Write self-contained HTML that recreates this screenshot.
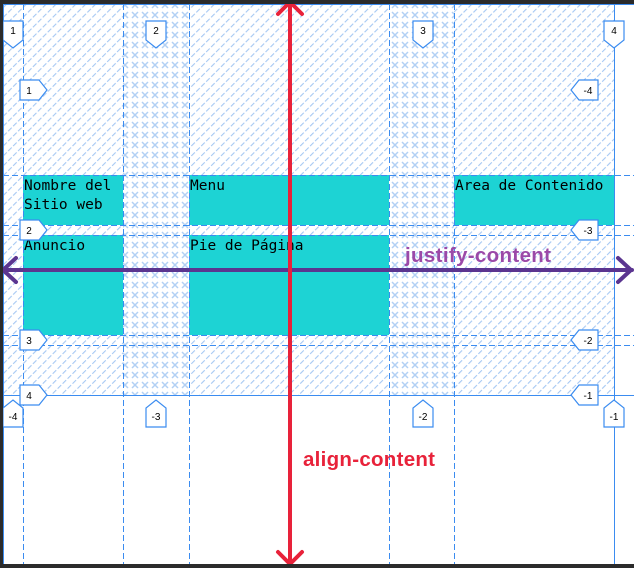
<!DOCTYPE html>
<html><head><meta charset="utf-8"><style>
html,body{margin:0;padding:0;background:#fff;width:634px;height:568px;overflow:hidden}
svg{display:block}
.cell{font-family:"DejaVu Sans Mono","Liberation Mono",monospace;font-size:14.5px;fill:#000}
.bt{font-family:"Liberation Sans",sans-serif;font-size:10px;fill:#000;text-anchor:middle}
</style></head><body>
<svg width="634" height="568" viewBox="0 0 634 568">
<defs>
<pattern id="diag" width="7" height="7" patternUnits="userSpaceOnUse" patternTransform="rotate(45)">
<rect width="7" height="7" fill="#fff"/><line x1="0" y1="0" x2="0" y2="7" stroke="#a6c8f3" stroke-width="2.2" stroke-dasharray="3 2"/></pattern>
<pattern id="cross" width="10" height="10" patternUnits="userSpaceOnUse">
<rect width="10" height="10" fill="#fff"/><path d="M2 2L8 8M8 2L2 8" stroke="#b2d0f4" stroke-width="1.5"/></pattern>
</defs>
<g>
<rect x="3" y="4" width="611" height="391" fill="url(#diag)"/>
<rect x="123" y="4" width="66" height="391" fill="url(#cross)"/>
<rect x="389" y="4" width="65" height="391" fill="url(#cross)"/>
</g>
<g>
<rect x="23" y="175" width="100" height="50" fill="#1dd3d4"/>
<rect x="189" y="175" width="200" height="50" fill="#1dd3d4"/>
<rect x="454" y="175" width="160" height="50" fill="#1dd3d4"/>
<rect x="23" y="235" width="100" height="100" fill="#1dd3d4"/>
<rect x="189" y="235" width="200" height="100" fill="#1dd3d4"/>
<text class="cell" x="24" y="190">Nombre del</text>
<text class="cell" x="24" y="209">Sitio web</text>
<text class="cell" x="190" y="190">Menu</text>
<text class="cell" x="455" y="190">Area de Contenido</text>
<text class="cell" x="24" y="250">Anuncio</text>
<text class="cell" x="190" y="250">Pie de Página</text>
</g>
<g stroke="#3b8cf0" stroke-width="1">
<g stroke-dasharray="6 3">
<line x1="23.5" y1="4" x2="23.5" y2="564"/><line x1="123.5" y1="4" x2="123.5" y2="564"/>
<line x1="189.5" y1="4" x2="189.5" y2="564"/><line x1="389.5" y1="4" x2="389.5" y2="564"/>
<line x1="454.5" y1="4" x2="454.5" y2="564"/>
<line x1="3" y1="175.5" x2="634" y2="175.5"/><line x1="3" y1="225.5" x2="634" y2="225.5"/>
<line x1="3" y1="235.5" x2="634" y2="235.5"/><line x1="3" y1="335.5" x2="634" y2="335.5"/>
<line x1="3" y1="345.5" x2="634" y2="345.5"/>
</g>
<line x1="3" y1="4.5" x2="634" y2="4.5"/><line x1="3" y1="395.5" x2="634" y2="395.5"/>
<line x1="614.5" y1="4" x2="614.5" y2="564"/><line x1="3.5" y1="4" x2="3.5" y2="564"/>
</g>
<g fill="#fff" stroke="#3b8cf0" stroke-width="1.2">
<path d="M3 21h20v19l-10 8l-10 -8z"/><path d="M146 21h20v19l-10 8l-10 -8z"/>
<path d="M413 21h20v19l-10 8l-10 -8z"/><path d="M604 21h20v19l-10 8l-10 -8z"/>
<path d="M20 80h19l8 10l-8 10h-19z"/><path d="M20 220h19l8 10l-8 10h-19z"/>
<path d="M20 330h19l8 10l-8 10h-19z"/><path d="M20 385h19l8 10l-8 10h-19z"/>
<path d="M598 80h-19l-8 10l8 10h19z"/><path d="M598 220h-19l-8 10l8 10h19z"/>
<path d="M598 330h-19l-8 10l8 10h19z"/><path d="M598 385h-19l-8 10l8 10h19z"/>
<path d="M3 427h20v-19l-10 -8l-10 8z"/><path d="M146 427h20v-19l-10 -8l-10 8z"/>
<path d="M413 427h20v-19l-10 -8l-10 8z"/><path d="M604 427h20v-19l-10 -8l-10 8z"/>
</g>
<g>
<text class="bt" x="13" y="34">1</text><text class="bt" x="156" y="34">2</text><text class="bt" x="423" y="34">3</text><text class="bt" x="614" y="34">4</text>
<text class="bt" x="29" y="94">1</text><text class="bt" x="29" y="234">2</text><text class="bt" x="29" y="344">3</text><text class="bt" x="29" y="399">4</text>
<text class="bt" x="588" y="94">-4</text><text class="bt" x="588" y="234">-3</text><text class="bt" x="588" y="344">-2</text><text class="bt" x="588" y="399">-1</text>
<text class="bt" x="13" y="420">-4</text><text class="bt" x="156" y="420">-3</text><text class="bt" x="423" y="420">-2</text><text class="bt" x="614" y="420">-1</text>
</g>
<g stroke="#5b3590" stroke-width="4" fill="none" stroke-linecap="round">
<line x1="2" y1="270" x2="632" y2="270"/>
<path d="M16 258L3 270L16 282"/><path d="M618 258L631 270L618 282"/>
</g>
<text x="405" y="262" font-family="Liberation Sans, sans-serif" font-weight="bold" font-size="20.5" fill="#9b49a8" textLength="146">justify-content</text>
<g stroke="#e8223a" stroke-width="4" fill="none" stroke-linecap="round">
<line x1="290" y1="2" x2="290" y2="564"/>
<path d="M278 14L290 2L302 14"/><path d="M278 552L290 564L302 552"/>
</g>
<text x="303" y="466" font-family="Liberation Sans, sans-serif" font-weight="bold" font-size="20.5" fill="#e8223a" textLength="132">align-content</text>
<rect x="0" y="0" width="634" height="4" fill="#2b2b2b"/>
<rect x="0" y="0" width="3" height="568" fill="#2b2b2b"/>
<rect x="0" y="564" width="634" height="4" fill="#2b2b2b"/>
</svg>
</body></html>
